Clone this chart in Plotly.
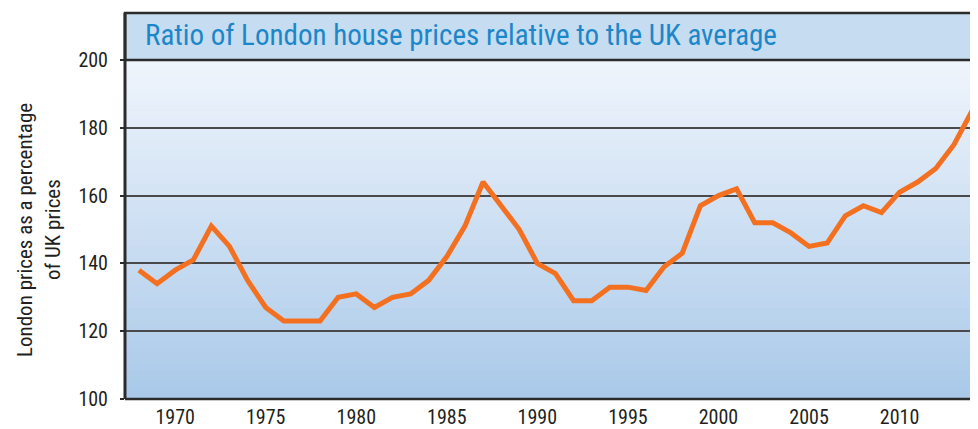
import plotly.graph_objects as go

years = list(range(1968, 2015))
ratio = [138, 134, 138, 141, 151, 145, 135, 127, 123, 123,
         123, 130, 131, 127, 130, 131, 135, 142, 151, 164,
         157, 150, 140, 137, 129, 129, 133, 133, 132, 139,
         143, 157, 160, 162, 152, 152, 149, 145, 146, 154,
         157, 155, 161, 164, 168, 175, 185]

y_ticks = [100, 120, 140, 160, 180, 200]
x_ticks = [1970, 1975, 1980, 1985, 1990, 1995, 2000, 2005, 2010]

title_text = "Ratio of London house prices relative to the UK average"
y_title_1 = "London prices as a percentage"
y_title_2 = "of UK prices"

FONT = "Liberation Sans Narrow, Roboto Condensed, Arial Narrow, sans-serif"
TXT = "#231f20"

# page body has an 8px margin; size the figure so the plot lands where intended
W, H = 970, 421
ML, MT, MB = 117, 52, 30
PW = W - ML
PH = H - MT - MB

fig = go.Figure()
fig.add_trace(go.Scatter(x=years, y=ratio, mode="lines",
                         line=dict(color="#f37021", width=5),
                         hoverinfo="x+y", showlegend=False))

shapes = []
n = 60
top = (0xf0, 0xf5, 0xfc)
bot = (0xa9, 0xc9, 0xe9)
for i in range(n):
    t = (i + 0.5) / n
    c = tuple(round(top[k] + (bot[k] - top[k]) * t) for k in range(3))
    shapes.append(dict(type="rect", xref="x domain", yref="y domain",
                       x0=0, x1=1, y0=1 - (i + 1) / n, y1=1 - i / n + 0.002,
                       fillcolor="rgb(%d,%d,%d)" % c, line=dict(width=0),
                       layer="below"))
# title box
shapes.append(dict(type="rect", xref="paper", yref="paper",
                   x0=0, x1=1.01, y0=1.0, y1=1 + 47 / PH,
                   fillcolor="#c6dcf0", line=dict(color="#2b2b2b", width=2.5),
                   layer="above"))
shapes.append(dict(type="line", xref="paper", yref="paper", x0=0, x1=0,
                   y0=0, y1=1 + 47 / PH, line=dict(color="#2b2b2b", width=3)))
shapes.append(dict(type="line", xref="paper", yref="paper", x0=0, x1=1,
                   y0=0, y1=0, line=dict(color="#2b2b2b", width=2.5)))

ycen = (399 - 230) / PH

fig.update_layout(
    width=W, height=H,
    margin=dict(l=ML, r=0, t=MT, b=MB),
    paper_bgcolor="white", plot_bgcolor="#cfe0f2",
    shapes=shapes,
    font=dict(family=FONT, color=TXT, size=20),
    annotations=[
        dict(text=title_text, xref="paper", yref="paper",
             x=18 / PW, y=1 + 25 / PH, xanchor="left", yanchor="middle",
             showarrow=False, font=dict(family=FONT, size=29, color="#1b87c9")),
        dict(text=y_title_1, xref="paper", yref="paper",
             x=(25 - 125) / PW, y=ycen, xanchor="center", yanchor="middle",
             textangle=-90, showarrow=False,
             font=dict(family=FONT, size=21, color=TXT)),
        dict(text=y_title_2, xref="paper", yref="paper",
             x=(53 - 125) / PW, y=ycen, xanchor="center", yanchor="middle",
             textangle=-90, showarrow=False,
             font=dict(family=FONT, size=21, color=TXT)),
    ],
    xaxis=dict(range=[1967.23, 2014.33], tickvals=x_ticks, showgrid=False,
               zeroline=False, showline=False, ticks="", ticklabelstandoff=4,
               tickfont=dict(size=20, color=TXT), fixedrange=True),
    yaxis=dict(range=[100, 200], tickvals=y_ticks, showgrid=True,
               gridcolor="#4a4a4c", gridwidth=1.5, zeroline=False,
               showline=False, ticks="outside", ticklen=4, tickcolor="#2b2b2b",
               tickwidth=1.5, ticklabelstandoff=8,
               tickfont=dict(size=20, color=TXT), fixedrange=True),
)

fig.write_html("out.html")
